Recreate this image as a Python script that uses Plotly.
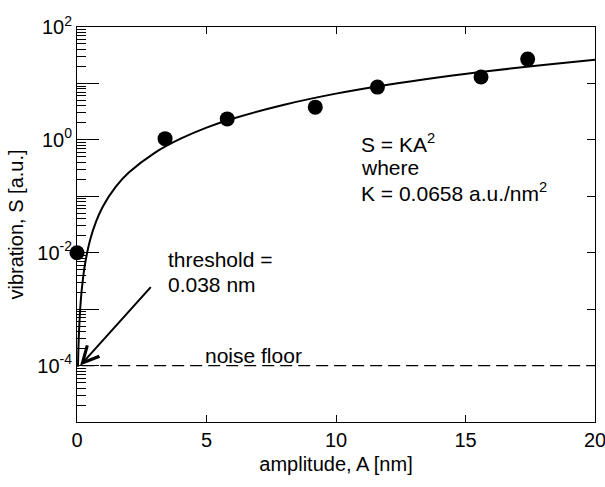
import plotly.graph_objects as go

# measured data points
amplitude_nm = [0.0, 3.4, 5.8, 9.2, 11.6, 15.6, 17.4]
vibration_au = [0.01, 1.05, 2.35, 3.8, 8.6, 13.0, 27.0]

# fit curve S = K A^2
fit_amplitude = [0.038, 0.06, 0.1, 0.15, 0.2, 0.3, 0.5, 0.75, 1.0, 1.5, 2.0, 3.0,
                 4.0, 5.0, 6.0, 8.0, 10.0, 12.0, 14.0, 16.0, 18.0, 20.0]
fit_vibration = [9.5e-5, 2.4e-4, 6.6e-4, 1.5e-3, 2.6e-3, 5.9e-3, 0.0165, 0.037, 0.066,
                 0.148, 0.263, 0.59, 1.05, 1.65, 2.37, 4.2, 6.6, 9.5, 12.9, 16.8, 21.3, 26.3]

# noise floor
noise_x = [0.2, 20.0]
noise_y = [1e-4, 1e-4]

x_ticks = [0, 5, 10, 15, 20]
y_ticks = [1e-5, 1e-4, 1e-3, 1e-2, 1e-1, 1e0, 1e1, 1e2]
y_ticktext = ["", "10<sup>-4</sup>", "", "10<sup>-2</sup>", "", "10<sup>0</sup>", "", "10<sup>2</sup>"]
y_minor = [m * 10.0 ** e for e in range(-5, 2) for m in range(2, 10)]

FONT = "Liberation Sans, Arial, sans-serif"

fig = go.Figure()
fig.add_trace(go.Scatter(x=fit_amplitude, y=fit_vibration, mode="lines",
                         line=dict(color="black", width=2, shape="spline"),
                         showlegend=False, cliponaxis=True))
fig.add_trace(go.Scatter(x=noise_x, y=noise_y, mode="lines",
                         line=dict(color="black", width=1.3, dash="12px,6px"),
                         showlegend=False))
fig.add_trace(go.Scatter(x=amplitude_nm, y=vibration_au, mode="markers",
                         marker=dict(color="black", size=15, symbol="circle"),
                         showlegend=False, cliponaxis=False))
# invisible trace for right-side tick axis
fig.add_trace(go.Scatter(x=[None], y=[None], yaxis="y2", showlegend=False, hoverinfo="skip"))

axis_font = dict(family=FONT, size=20, color="black")

fig.update_layout(
    width=605, height=487,
    margin=dict(l=77, r=10, t=27, b=65),
    paper_bgcolor="white", plot_bgcolor="white",
    font=dict(family=FONT, size=20, color="black"),
    xaxis=dict(range=[0, 20], tickvals=x_ticks, ticks="inside", ticklen=7, tickwidth=1,
               tickcolor="black", showline=True, linecolor="black", linewidth=1,
               mirror="ticks", showgrid=False, zeroline=False, automargin=False,
               tickfont=axis_font, ticklabeloverflow="allow",
               title=dict(text="amplitude, A [nm]", font=axis_font, standoff=6)),
    yaxis=dict(type="log", range=[-5, 2], tickvals=y_ticks, ticktext=y_ticktext,
               ticks="inside", ticklen=22, tickwidth=1, tickcolor="black",
               minor=dict(tickvals=y_minor, ticks="inside", ticklen=9, tickwidth=1,
                          tickcolor="black", showgrid=False),
               showline=True, linecolor="black", linewidth=1, mirror=True,
               showgrid=False, zeroline=False, automargin=False,
               tickfont=axis_font, ticklabeloverflow="allow",
               title=dict(text="vibration, S [a.u.]", font=axis_font, standoff=8)),
    yaxis2=dict(type="log", range=[-5, 2], overlaying="y", side="right",
                tickvals=y_ticks, showticklabels=False, ticks="inside", ticklen=8,
                tickcolor="black", showgrid=False, zeroline=False, showline=False),
)

annots = [
    dict(x=3.45, y=-2.12, text="threshold =", xanchor="left", yanchor="middle"),
    dict(x=3.45, y=-2.57, text="0.038 nm", xanchor="left", yanchor="middle"),
    dict(x=6.8, y=-3.82, text="noise floor", xanchor="center", yanchor="middle"),
    dict(x=10.9, y=-0.05, text="S = KA<sup>2</sup>", xanchor="left", yanchor="middle"),
    dict(x=10.9, y=-0.49, text="where", xanchor="left", yanchor="middle"),
    dict(x=10.9, y=-0.93, text="K = 0.0658 a.u./nm<sup>2</sup>", xanchor="left", yanchor="middle"),
]
for a in annots:
    fig.add_annotation(xref="x", yref="y", showarrow=False,
                       font=dict(family=FONT, size=21, color="black"), **a)

fig.add_annotation(xref="x", yref="y", x=0.12, y=-4, text="", showarrow=True,
                   ax=72, ay=-80, arrowhead=5, arrowsize=1.6, arrowwidth=2,
                   arrowcolor="black", standoff=0)

fig.write_html("out.html")
